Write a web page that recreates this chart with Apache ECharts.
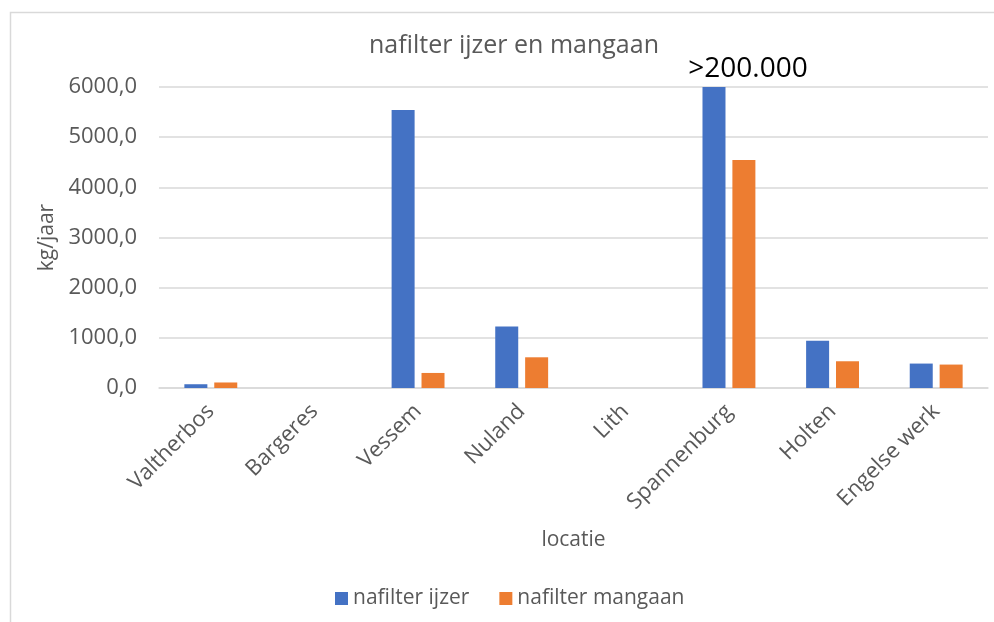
<!DOCTYPE html>
<html>
<head>
<meta charset="utf-8">
<script src="https://cdn.jsdelivr.net/npm/echarts@6/dist/echarts.min.js"></script>
<style>
html, body { margin: 0; padding: 0; background: #fff; }
#main { width: 994px; height: 622px; }
</style>
</head>
<body>
<div id="main"></div>
<script>
var locaties = ['Valtherbos', 'Bargeres', 'Vessem', 'Nuland', 'Lith', 'Spannenburg', 'Holten', 'Engelse werk'];
// Spannenburg ijzer is >200.000, the axis cuts it off at 6000
var ijzer = [75, 0, 5540, 1225, 0, 200000, 940, 487];
var mangaan = [110, 0, 300, 612, 0, 4545, 533, 467];

var myChart = echarts.init(document.getElementById('main'));
var fontFam = '"Open Sans", "Liberation Sans", sans-serif';

var ijzerData = [];
for (var i = 0; i < ijzer.length; i++) {
    if (ijzer[i] > 6000) {
        ijzerData.push({
            value: ijzer[i],
            label: {
                show: true,
                position: 'top',
                distance: 4,
                offset: [34, 0],
                formatter: '>200.000',
                fontSize: 28,
                fontFamily: fontFam,
                color: '#000'
            }
        });
    } else {
        ijzerData.push(ijzer[i]);
    }
}

var option = {
    animation: false,
    backgroundColor: '#fff',
    color: ['#4472C4', '#ED7D31'],
    title: {
        text: 'nafilter ijzer en mangaan',
        left: 509,
        textAlign: 'center',
        top: 28,
        textStyle: { fontFamily: fontFam, fontSize: 25, fontWeight: 'normal', color: '#595959' }
    },
    graphic: [{
        type: 'rect',
        shape: { x: 10.5, y: 12.5, width: 1000, height: 700 },
        style: { fill: 'none', stroke: '#d9d9d9', lineWidth: 1.5 },
        silent: true
    }],
    legend: {
        bottom: 8,
        left: 330,
        itemWidth: 13,
        itemHeight: 13,
        itemGap: 30,
        icon: 'rect',
        textStyle: { fontFamily: fontFam, fontSize: 21, color: '#595959' },
        data: ['nafilter ijzer', 'nafilter mangaan']
    },
    grid: {
        left: 159,
        right: 6,
        top: 87,
        height: 301,
        containLabel: false
    },
    xAxis: {
        type: 'category',
        data: locaties,
        name: 'locatie',
        nameLocation: 'middle',
        nameGap: 142,
        nameTextStyle: { fontFamily: fontFam, fontSize: 21, color: '#595959' },
        axisLine: { show: true, lineStyle: { color: '#d9d9d9', width: 1.5 } },
        axisTick: { show: false },
        axisLabel: {
            rotate: 45,
            margin: 20,
            fontFamily: fontFam,
            fontSize: 22,
            color: '#595959'
        }
    },
    yAxis: {
        type: 'value',
        min: 0,
        max: 6000,
        interval: 1000,
        name: 'kg/jaar',
        nameLocation: 'middle',
        nameGap: 101,
        nameTextStyle: { fontFamily: fontFam, fontSize: 21, color: '#595959' },
        axisLine: { show: false },
        axisTick: { show: false },
        splitLine: { lineStyle: { color: '#d9d9d9', width: 1.5 } },
        axisLabel: {
            margin: 22,
            fontFamily: fontFam,
            fontSize: 22,
            color: '#595959',
            formatter: function (v) { return v.toFixed(1).replace('.', ','); }
        }
    },
    series: [
        {
            name: 'nafilter ijzer',
            type: 'bar',
            clip: true,
            barWidth: 23,
            barGap: '30%',
            data: ijzerData,
            itemStyle: { color: '#4472C4' }
        },
        {
            name: 'nafilter mangaan',
            type: 'bar',
            clip: true,
            barWidth: 23,
            barGap: '30%',
            data: mangaan,
            itemStyle: { color: '#ED7D31' }
        }
    ]
};

myChart.setOption(option);
window.addEventListener('resize', function () {
    myChart.resize();
});
</script>
</body>
</html>
